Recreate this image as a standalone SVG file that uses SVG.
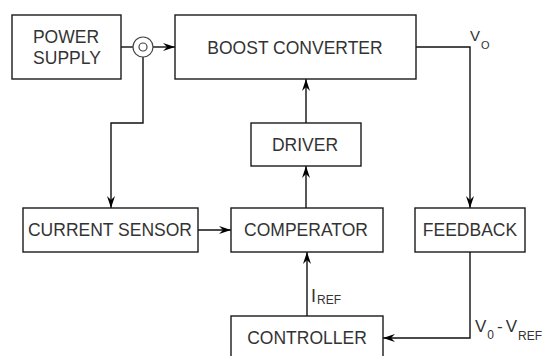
<svg xmlns="http://www.w3.org/2000/svg" width="549" height="356" viewBox="0 0 549 356">
<defs>
<style>
.box{fill:#fff;stroke:#1a1a1a;stroke-width:1.4}
.lbl{font-family:"Liberation Sans",Arial,sans-serif;font-size:17.5px;fill:#333;text-anchor:middle}
.sym{font-family:"Liberation Sans",Arial,sans-serif;fill:#333}
.ln{fill:none;stroke:#111;stroke-width:1.4}
</style>
<marker id="ah" markerUnits="userSpaceOnUse" markerWidth="14" markerHeight="10" viewBox="-12 -5 13 10" refX="0" refY="0" orient="auto">
<path d="M0,0 L-12,-4 L-8,0 L-12,4 Z" fill="#000"/>
</marker>
</defs>
<rect width="549" height="356" fill="#fff"/>
<g id="connectors">
<line class="ln" x1="121" y1="47" x2="133" y2="47"/>
<line class="ln" x1="153" y1="47" x2="175" y2="47" marker-end="url(#ah)"/>
<polyline class="ln" points="143,57 143,123 111,123 111,208" marker-end="url(#ah)"/>
<line class="ln" x1="198" y1="230" x2="231" y2="230" marker-end="url(#ah)"/>
<line class="ln" x1="306" y1="208" x2="306" y2="166" marker-end="url(#ah)"/>
<line class="ln" x1="306" y1="123" x2="306" y2="79" marker-end="url(#ah)"/>
<polyline class="ln" points="416,47 470,47 470,208" marker-end="url(#ah)"/>
<polyline class="ln" points="470,252 470,338 383,338" marker-end="url(#ah)"/>
<line class="ln" x1="307" y1="316" x2="307" y2="252" marker-end="url(#ah)"/>
</g>
<g id="junction">
<circle cx="143" cy="47" r="10" fill="#fff" stroke="#444" stroke-width="1.2"/>
<circle cx="143" cy="47" r="4" fill="#fff" stroke="#444" stroke-width="1.2"/>
</g>
<g id="power-supply">
<rect class="box" x="12" y="15" width="109" height="64"/>
<text class="lbl" x="66" y="43">POWER</text>
<text class="lbl" x="67" y="64">SUPPLY</text>
</g>
<g id="boost-converter">
<rect class="box" x="175" y="15" width="241" height="64"/>
<text class="lbl" x="295" y="54">BOOST CONVERTER</text>
</g>
<g id="driver">
<rect class="box" x="251" y="123" width="110" height="43"/>
<text class="lbl" x="305" y="151">DRIVER</text>
</g>
<g id="current-sensor">
<rect class="box" x="23" y="208" width="175" height="44"/>
<text class="lbl" x="110" y="236">CURRENT SENSOR</text>
</g>
<g id="comperator">
<rect class="box" x="231" y="208" width="152" height="44"/>
<text class="lbl" x="306" y="236">COMPERATOR</text>
</g>
<g id="feedback">
<rect class="box" x="415" y="208" width="110" height="44"/>
<text class="lbl" x="470" y="236">FEEDBACK</text>
</g>
<g id="controller">
<rect class="box" x="231" y="316" width="152" height="45"/>
<text class="lbl" x="307" y="344">CONTROLLER</text>
</g>
<g id="labels">
<text class="sym" x="470" y="41" font-size="15">V<tspan font-size="11" dx="1" dy="8">O</tspan></text>
<text class="sym" x="311" y="302" font-size="18">I<tspan font-size="12" dx="1" dy="2">REF</tspan></text>
<text class="sym" x="475" y="332" font-size="17">V<tspan font-size="12" dx="1" dy="7">0</tspan><tspan dx="3" dy="-7">-</tspan><tspan dx="3">V</tspan><tspan font-size="12" dx="1" dy="8">REF</tspan></text>
</g>
</svg>
